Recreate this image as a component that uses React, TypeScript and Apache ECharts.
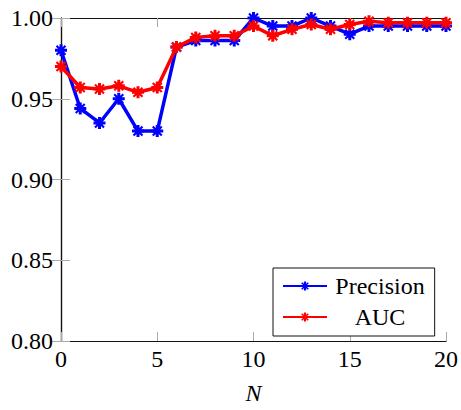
import React, { useEffect, useRef } from "react";
import * as echarts from "echarts";

const nValues = [0, 1, 2, 3, 4, 5, 6, 7, 8, 9, 10, 11, 12, 13, 14, 15, 16, 17, 18, 19, 20];
const precision = [0.98, 0.944, 0.935, 0.95, 0.93, 0.93, 0.982, 0.986, 0.986, 0.986, 1.0, 0.995, 0.995, 1.0, 0.995, 0.99, 0.995, 0.995, 0.995, 0.995, 0.995];
const auc = [0.97, 0.957, 0.956, 0.958, 0.954, 0.957, 0.982, 0.988, 0.989, 0.989, 0.995, 0.989, 0.993, 0.996, 0.993, 0.996, 0.998, 0.997, 0.997, 0.997, 0.997];
const seriesNames = ["Precision", "AUC"];
const seriesColors = ["#0000ff", "#ff0000"];

const STAR =
  "path://M-1,-4 L1,-4 L1,-1 L4,-1 L4,1 L1,1 L1,4 L-1,4 L-1,1 L-4,1 L-4,-1 L-1,-1 Z " +
  "M-3.5,-2.5 L-2.5,-3.5 L3.5,2.5 L2.5,3.5 Z " +
  "M2.5,-3.5 L3.5,-2.5 L-2.5,3.5 L-3.5,2.5 Z";

const FONT = "'Liberation Serif', 'Times New Roman', serif";

export default function App() {
  const ref = useRef<HTMLDivElement>(null);
  useEffect(() => {
    if (!ref.current) return;
    const chart = echarts.init(ref.current, undefined, { renderer: "svg" });
    const data = [precision, auc];
    const tick = { show: true, inside: true, length: 9, lineStyle: { color: "#aaa", width: 1 } };
    const line = { show: true, lineStyle: { color: "#111", width: 1.2 } };
    chart.setOption({
      animation: false,
      backgroundColor: "#fff",
      textStyle: { fontFamily: FONT },
      grid: { left: 61, right: 13, top: 18, bottom: 61 },
      xAxis: [
        {
          type: "value", min: 0, max: 20, interval: 5,
          axisLine: line, axisTick: tick, splitLine: { show: false },
          axisLabel: { color: "#000", fontSize: 24, fontFamily: FONT, margin: 6 },
          name: "N", nameLocation: "middle", nameGap: 40,
          nameTextStyle: { color: "#000", fontSize: 24, fontFamily: FONT, fontStyle: "italic" },
        },
        {
          type: "value", min: 0, max: 20, interval: 5, position: "top",
          axisLine: line, axisTick: tick, axisLabel: { show: false }, splitLine: { show: false },
        },
      ],
      yAxis: [
        {
          type: "value", min: 0.8, max: 1.0, interval: 0.05,
          axisLine: line, axisTick: tick, splitLine: { show: false },
          axisLabel: { color: "#000", fontSize: 24, fontFamily: FONT, margin: 8, formatter: (v: number) => v.toFixed(2) },
        },
        {
          type: "value", min: 0.8, max: 1.0, interval: 0.05, position: "right",
          axisLine: line, axisTick: tick, axisLabel: { show: false }, splitLine: { show: false },
        },
      ],
      legend: {
        orient: "vertical",
        left: 273,
        top: 268,
        backgroundColor: "#fff",
        borderColor: "#111",
        borderWidth: 1,
        padding: [6, 10, 7, 9],
        itemGap: 7,
        itemWidth: 44,
        itemHeight: 11,
        data: seriesNames,
        formatter: (name: string) => `{a|${name}}`,
        textStyle: {
          color: "#000",
          fontFamily: FONT,
          fontSize: 24,
          rich: { a: { width: 96, align: "center", fontSize: 24, fontFamily: FONT, color: "#000" } },
        },
      },
      series: seriesNames.map((name, i) => ({
        name,
        type: "line",
        data: nValues.map((n, j) => [n, data[i][j]]),
        symbol: STAR,
        symbolSize: 12,
        showSymbol: true,
        lineStyle: { color: seriesColors[i], width: 3.5 },
        itemStyle: { color: seriesColors[i] },
        z: i === 1 ? 3 : 2,
      })),
    });
    return () => chart.dispose();
  }, []);
  return <div ref={ref} style={{ width: 461, height: 410, position: "absolute", left: 0, top: 0 }} />;
}
